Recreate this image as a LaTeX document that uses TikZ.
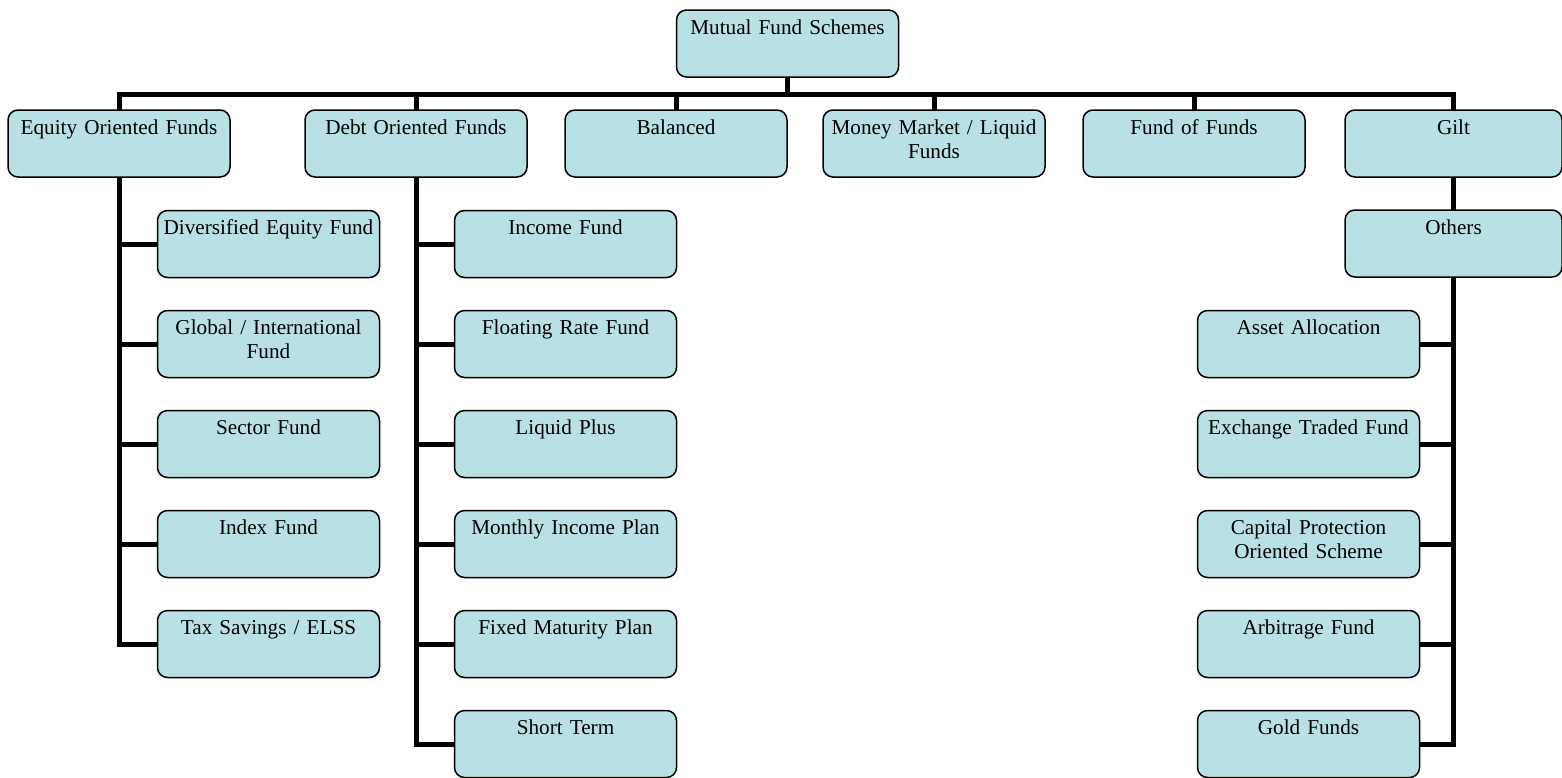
\documentclass[tikz,border=0pt]{standalone}
\usepackage{fontspec}
\setmainfont{Liberation Serif}
\usetikzlibrary{positioning,calc}
\definecolor{boxfill}{RGB}{185,224,228}

\begin{document}
\begin{tikzpicture}[x=0.5pt,y=-0.5pt,
  fund/.style={draw,line width=0.75pt,rounded corners=5pt,fill=boxfill,
    minimum width=111pt,text width=109pt,inner xsep=1pt,inner ysep=0pt,
    outer sep=0pt,align=center,text height=12pt,text depth=21.5pt,
    font=\fontsize{10.6pt}{12.2pt}\selectfont},
  narrow/.style={fund,minimum width=108.5pt,text width=106.5pt},
  link/.style={line width=2.5pt}]
  \useasboundingbox (0,0) rectangle (1562,777);
  % top level
  \node[fund](root) at (787.5,43.5){Mutual Fund Schemes};
  \node[fund](eq) at (119,143.5){Equity Oriented Funds};
  \node[fund,right=37.5pt of eq](debt){Debt Oriented Funds};
  \node[fund,right=19pt of debt](bal){Balanced};
  \node[fund,right=18pt of bal](mm){Money Market / Liquid\\Funds};
  \node[fund,right=19pt of mm](fof){Fund of Funds};
  \node[narrow,right=20pt of fof](gilt){Gilt};
  % equity branch
  \node[fund](div) at (268.5,244){Diversified Equity Fund};
  \node[fund,below=16.5pt of div](glob){Global / International\\Fund};
  \node[fund,below=16.5pt of glob](sec){Sector Fund};
  \node[fund,below=16.5pt of sec](idx){Index Fund};
  \node[fund,below=16.5pt of idx](tax){Tax Savings / ELSS};
  % debt branch
  \node[fund](inc) at (565.5,244){Income Fund};
  \node[fund,below=16.5pt of inc](flt){Floating Rate Fund};
  \node[fund,below=16.5pt of flt](lqp){Liquid Plus};
  \node[fund,below=16.5pt of lqp](mip){Monthly Income Plan};
  \node[fund,below=16.5pt of mip](fmp){Fixed Maturity Plan};
  \node[fund,below=16.5pt of fmp](st){Short Term};
  % others branch
  \node[narrow,below=16.5pt of gilt](oth){Others};
  \node[fund](aa) at (1308.5,344){Asset Allocation};
  \node[fund,below=16.5pt of aa](etf){Exchange Traded Fund};
  \node[fund,below=16.5pt of etf](cap){Capital Protection\\Oriented Scheme};
  \node[fund,below=16.5pt of cap](arb){Arbitrage Fund};
  \node[fund,below=16.5pt of arb](gold){Gold Funds};
  % connectors
  \coordinate(bus) at ($(root.south)+(0,17)$);
  \draw[link](root.south)--(bus);
  \draw[link](eq.north)|-(bus -| gilt.north)--(gilt.north);
  \foreach \n in {debt,bal,mm,fof}
    \draw[link](\n.north)--(\n.north |- bus);
  \draw[link](eq.south)|-(tax.west);
  \foreach \n in {div,glob,sec,idx}
    \draw[link](\n.west)--(\n.west -| eq.south);
  \draw[link](debt.south)|-(st.west);
  \foreach \n in {inc,flt,lqp,mip,fmp}
    \draw[link](\n.west)--(\n.west -| debt.south);
  \draw[link](gilt.south)--(oth.north);
  \draw[link](oth.south)|-(gold.east);
  \foreach \n in {aa,etf,cap,arb}
    \draw[link](\n.east)--(\n.east -| oth.south);
\end{tikzpicture}
\end{document}
